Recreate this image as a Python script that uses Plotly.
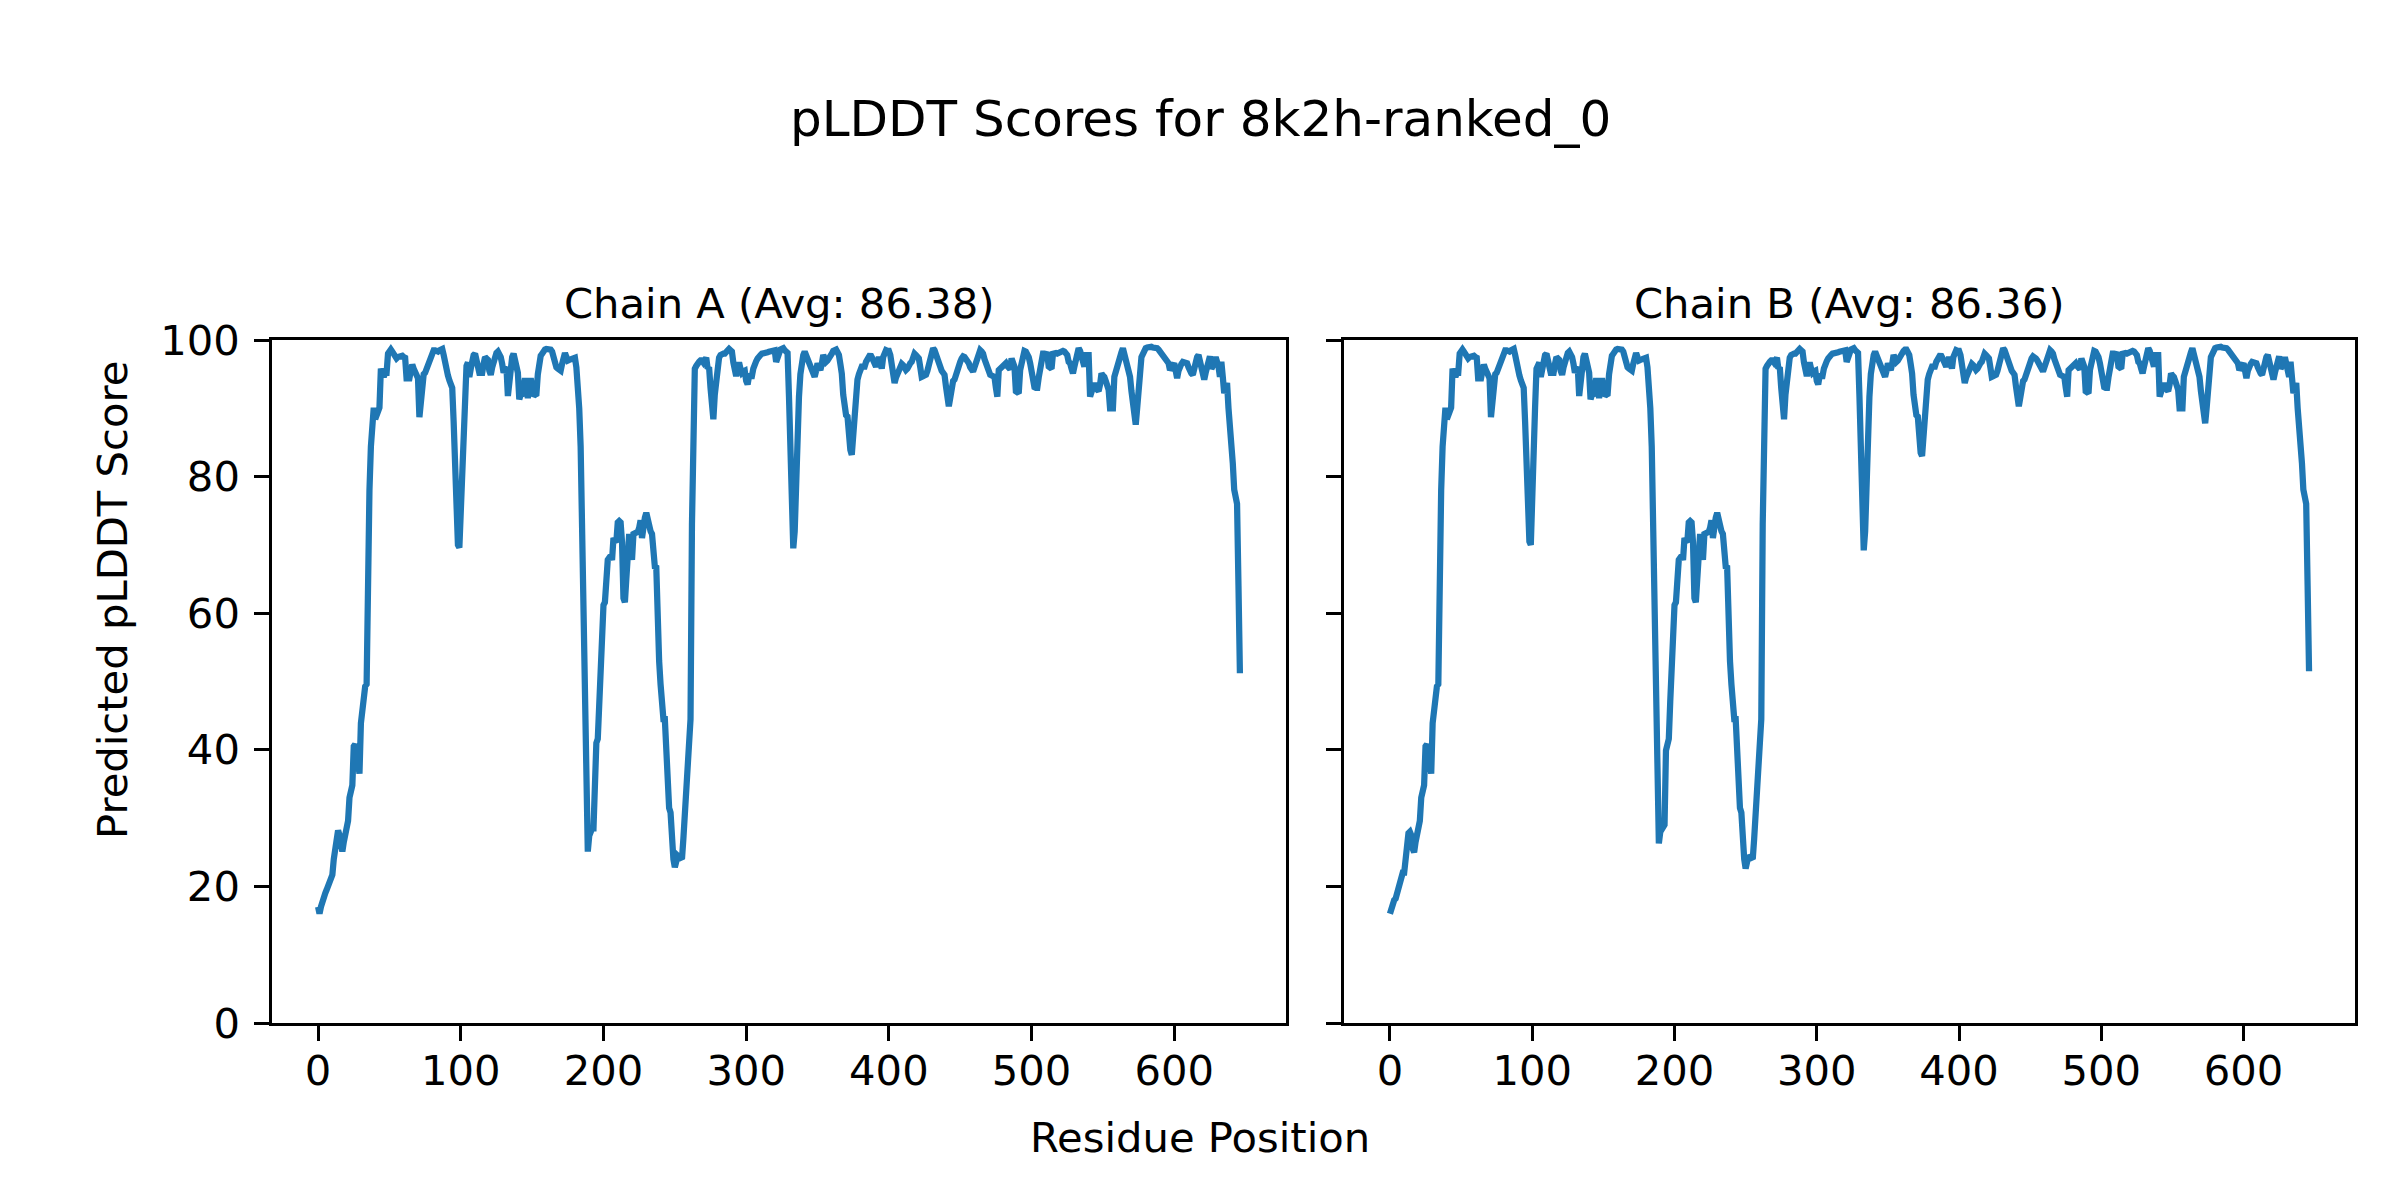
import plotly.graph_objects as go

# pLDDT values (residue index 0..646)
chain_a_plddt = [
    17, 16, 17, 18, 18.5, 19, 19.5, 20, 21, 21.5,
    21.7, 24, 26, 27.7, 28.2, 27.5, 26, 25.1, 26.5, 28,
    29.1, 29.6, 33, 34.5, 34.8, 40.5, 40.8, 39.9, 37, 36.5,
    43.9, 46, 49, 49.3, 49.6, 68, 78, 84.4, 87, 90.1,
    88.4, 89, 90, 90.1, 95.8, 95, 94.6, 95.2, 95.2, 98,
    98.2, 98.6, 98.3, 97.9, 97.5, 97.3, 97.5, 97.6, 97.7, 97.7,
    97.5, 97.4, 94.4, 94.3, 94.4, 95.5, 96.4, 95.8, 95.2, 94.8,
    94.4, 88.7, 91, 94.7, 95, 95.2, 95.8, 96.5, 97, 97.4,
    98, 98.5, 98.5, 98.4, 98.3, 98.5, 98.6, 98.7, 97.8, 96.4,
    95.5, 94.8, 94.1, 93.5, 93, 88, 80, 75, 70, 69.6,
    75, 85, 90.1, 95.8, 96.2, 96.7, 94.6, 95.8, 97.4, 97.8,
    98, 97, 95.5, 95.2, 95.2, 95.2, 96.5, 97.5, 97.3, 97.1,
    95.5, 94.9, 96, 97.1, 97.8, 98.1, 98.3, 98, 97.5, 96.5,
    95.2, 95.8, 96, 91.8, 94, 96.9, 97.5, 98, 97, 95.8,
    95.2, 91.3, 92, 91.8, 93, 94.4, 93, 91.5, 93, 94.4,
    93, 91.8, 92, 92.1, 95, 97.4, 97.7, 98, 98.4, 98.6,
    98.7, 98.7, 98.6, 98.6, 98.3, 97.5, 96.4, 96, 95.8, 95.6,
    95.5, 96.5, 97.5, 98.1, 97.5, 97, 97.1, 97.2, 97.3, 97.4,
    97.4, 96, 93.5, 90, 84.4, 72, 61.6, 44.5, 28.5, 25.1,
    27.4, 28, 28.5, 28.5, 39.9, 41, 41.6, 47, 53, 61,
    61.2, 61.6, 67.2, 67.8, 68.1, 68.4, 67.8, 71, 70.6, 70.4,
    73.3, 73.5, 73.3, 70.4, 62.2, 61.6, 65, 67.2, 71.6, 70,
    67.8, 71.6, 71.7, 71.8, 71.9, 72.5, 73.6, 71, 73.6, 74,
    74.7, 73.5, 72.7, 72, 71.6, 67, 66.8, 66.7, 56.5, 53,
    49.6, 44.5, 44.5, 44.5, 40, 32, 31.5, 30.8, 26, 24,
    22.8, 23.5, 24.5, 24.3, 24.2, 24, 27, 30.8, 32.5, 34.3,
    40, 44.5, 73, 90.1, 95.8, 96.2, 96.7, 96.8, 97, 97,
    96.7, 97.2, 97.4, 95.8, 96, 93, 90, 88.4, 92, 94.5,
    96.9, 97.4, 97.8, 98, 98, 98, 98.3, 98.6, 98.7, 98.5,
    98.3, 96.7, 95.5, 94.7, 95.8, 96.7, 95.8, 95.2, 95.4, 95.5,
    94, 93.5, 94.7, 94.7, 94.7, 95.8, 96.9, 96.9, 97.3, 97.8,
    97.8, 98, 98, 98, 98.1, 98.2, 98.3, 98.4, 98.5, 98.5,
    98.5, 96.8, 97.5, 98.5, 98.6, 98.7, 98.8, 98.5, 98.2, 98.1,
    91.7, 82, 72.2, 69.5, 72, 81, 87, 91.7, 95, 97.1,
    97.8, 98.3, 97.8, 96.8, 96.6, 96, 95.6, 95, 94.6, 95.5,
    96.6, 96, 95.6, 96.5, 97.8, 97.3, 96.8, 97, 97.5, 97.8,
    98, 98.4, 98.6, 98.6, 98.2, 97.8, 96.5, 95.1, 92, 89.3,
    89, 88.8, 84.5, 83.9, 83.2, 86.8, 90, 93.2, 94.2, 95,
    96, 96.1, 96.1, 96.1, 96.8, 97.1, 97.5, 97.9, 97.5, 96.8,
    96.4, 96.1, 96.8, 97.5, 96.8, 95.8, 97.5, 98.5, 98.5, 98.4,
    98.4, 97.8, 96.6, 95, 93.7, 94.5, 95.1, 95.8, 96.3, 96.5,
    96.3, 95.6, 95.6, 95.8, 96.5, 96.6, 96.8, 97.3, 98, 97.8,
    97.5, 97.3, 96, 94.6, 94.7, 94.8, 94.9, 95.5, 96.5, 97.1,
    98, 98.8, 98.5, 97.8, 97.2, 96.5, 96.1, 95.5, 95.2, 94.9,
    93.2, 91.5, 90.3, 91.5, 93.7, 94, 94.2, 95, 95.6, 96.1,
    96.8, 97.3, 97.6, 97.5, 97.3, 97, 96.6, 96, 95.6, 95.4,
    96, 96.6, 97.5, 98.3, 98.5, 98.3, 98, 97.2, 96.5, 96.1,
    95.5, 94.9, 94.8, 94.7, 94.6, 93, 91.7, 95.6, 95.8, 96,
    96.3, 96.4, 96.6, 96.2, 95.8, 95.7, 97.3, 96.8, 96.1, 92.5,
    92.3, 92.2, 95.6, 97, 98, 98.4, 98.3, 98, 97.5, 96.6,
    95, 93.2, 93.1, 93, 93, 94.5, 96.1, 97, 98, 98,
    97.9, 97.9, 96.1, 95.8, 95.8, 98, 98.1, 98.1, 98, 98.1,
    98.3, 98.4, 98.4, 98.3, 98, 97.8, 96.8, 96.6, 95.8, 95.1,
    96.1, 97, 98.3, 98.8, 98.4, 97.8, 97, 96.1, 97.8, 97.8,
    97.8, 91.7, 92.2, 93, 93.7, 93, 92.5, 92.5, 93.5, 95.1,
    94.8, 94.6, 94, 93.2, 92.7, 90, 90, 90, 94.6, 95.5,
    96.1, 97, 97.5, 98.2, 98.8, 98, 96.8, 96, 95.2, 94.6,
    92.5, 90.3, 89, 87.6, 90, 91.7, 95, 97.5, 98.2, 98.6,
    98.8, 98.9, 99, 99, 99, 98.9, 98.9, 98.8, 98.8, 98.6,
    98.3, 98, 97.8, 97.5, 97.3, 97, 96.6, 95.6, 96, 96.3,
    96.6, 95.5, 94.4, 95.5, 96.3, 96.5, 96.8, 96.7, 96.6, 96.6,
    96, 95.4, 95.1, 94.9, 96, 97.1, 97.5, 97.8, 97, 96.1,
    95.2, 94.2, 95.2, 96.1, 97, 97.6, 95.8, 96.2, 96.6, 97.5,
    96.8, 96.1, 94.6, 96.8, 94.6, 92.2, 93, 93.7, 90, 87.3,
    87.1, 82, 78.1, 76.6, 76, 64, 51.2,
]

chain_b_plddt = [
    16, 17, 17.4, 18, 18.2, 19, 20, 20.5, 21.5, 22,
    22, 24.5, 26.5, 27.8, 28, 27.5, 25.5, 25, 26.5, 28,
    29.1, 29.6, 33, 34.5, 34.8, 40.5, 40.8, 39.9, 37, 36.5,
    43.9, 46, 49, 49.3, 49.6, 68, 78, 84.4, 87, 90.1,
    88.4, 89, 90, 90.1, 95.8, 95, 94.6, 95.2, 95.2, 98,
    98.2, 98.6, 98.3, 97.9, 97.5, 97.3, 97.5, 97.6, 97.7, 97.7,
    97.5, 97.4, 94.4, 94.3, 94.4, 95.5, 96.4, 95.8, 95.2, 94.8,
    94.4, 88.7, 91, 94.7, 95, 95.2, 95.8, 96.5, 97, 97.4,
    98, 98.5, 98.5, 98.4, 98.3, 98.5, 98.6, 98.7, 97.8, 96.4,
    95.5, 94.8, 94.1, 93.5, 93, 88, 80, 75, 70.5, 70,
    75, 85, 90.1, 95.8, 96.2, 96.7, 94.6, 95.8, 97.4, 97.8,
    98, 97, 95.5, 95.2, 95.2, 95.2, 96.5, 97.5, 97.3, 97.1,
    95.5, 94.9, 96, 97.1, 97.8, 98.1, 98.3, 98, 97.5, 96.5,
    95.2, 95.8, 96, 91.8, 94, 96.9, 97.5, 98, 97, 95.8,
    95.2, 91.3, 92, 91.8, 93, 94.4, 93, 91.5, 93, 94.4,
    93, 91.8, 92, 92.1, 95, 97.4, 97.7, 98, 98.4, 98.6,
    98.7, 98.7, 98.6, 98.6, 98.3, 97.5, 96.4, 96, 95.8, 95.6,
    95.5, 96.5, 97.5, 98.1, 97.5, 97, 97.1, 97.2, 97.3, 97.4,
    97.4, 96, 93.5, 90, 84.4, 72, 61.6, 44.5, 29, 26.3,
    28, 28.5, 28.8, 29, 39.9, 41, 41.6, 47, 53, 61,
    61.2, 61.6, 67.2, 67.8, 68.1, 68.4, 67.8, 71, 70.6, 70.4,
    73.3, 73.5, 73.3, 70.4, 62.2, 61.6, 65, 67.2, 71.6, 70,
    67.8, 71.6, 71.7, 71.8, 71.9, 72.5, 73.6, 71, 73.6, 74,
    74.7, 73.5, 72.7, 72, 71.6, 67, 66.8, 66.7, 56.5, 53,
    49.6, 44.5, 44.5, 44.5, 40, 32, 31.5, 30.8, 26, 24,
    22.6, 23.5, 24.5, 24.3, 24.2, 24, 27, 30.8, 32.5, 34.3,
    40, 44.5, 73, 90.1, 95.8, 96.2, 96.7, 96.8, 97, 97,
    96.7, 97.2, 97.4, 95.8, 96, 93, 90, 88.4, 92, 94.5,
    96.9, 97.4, 97.8, 98, 98, 98, 98.3, 98.6, 98.7, 98.5,
    98.3, 96.7, 95.5, 94.7, 95.8, 96.7, 95.8, 95.2, 95.4, 95.5,
    94, 93.5, 94.7, 94.7, 94.7, 95.8, 96.9, 96.9, 97.3, 97.8,
    97.8, 98, 98, 98, 98.1, 98.2, 98.3, 98.4, 98.5, 98.5,
    98.5, 96.8, 97.5, 98.5, 98.6, 98.7, 98.8, 98.5, 98.2, 98.1,
    91.7, 82, 72.2, 69.2, 72, 81, 87, 91.7, 95, 97.1,
    97.8, 98.3, 97.8, 96.8, 96.6, 96, 95.6, 95, 94.6, 95.5,
    96.6, 96, 95.6, 96.5, 97.8, 97.3, 96.8, 97, 97.5, 97.8,
    98, 98.4, 98.6, 98.6, 98.2, 97.8, 96.5, 95.1, 92, 89.3,
    89, 88.8, 84.5, 83.5, 83, 86.8, 90, 93.2, 94.2, 95,
    96, 96.1, 96.1, 96.1, 96.8, 97.1, 97.5, 97.9, 97.5, 96.8,
    96.4, 96.1, 96.8, 97.5, 96.8, 95.8, 97.5, 98.5, 98.5, 98.4,
    98.4, 97.8, 96.6, 95, 93.7, 94.5, 95.1, 95.8, 96.3, 96.5,
    96.3, 95.6, 95.6, 95.8, 96.5, 96.6, 96.8, 97.3, 98, 97.8,
    97.5, 97.3, 96, 94.6, 94.7, 94.8, 94.9, 95.5, 96.5, 97.1,
    98, 98.8, 98.5, 97.8, 97.2, 96.5, 96.1, 95.5, 95.2, 94.9,
    93.2, 91.5, 90.3, 91.5, 93.7, 94, 94.2, 95, 95.6, 96.1,
    96.8, 97.3, 97.6, 97.5, 97.3, 97, 96.6, 96, 95.6, 95.4,
    96, 96.6, 97.5, 98.3, 98.5, 98.3, 98, 97.2, 96.5, 96.1,
    95.5, 94.9, 94.8, 94.7, 94.6, 93, 91.7, 95.6, 95.8, 96,
    96.3, 96.4, 96.6, 96.2, 95.8, 95.7, 97.3, 96.8, 96.1, 92.5,
    92.3, 92.2, 95.6, 97, 98, 98.4, 98.3, 98, 97.5, 96.6,
    95, 93.2, 93.1, 93, 93, 94.5, 96.1, 97, 98, 98,
    97.9, 97.9, 96.1, 95.8, 95.8, 98, 98.1, 98.1, 98, 98.1,
    98.3, 98.4, 98.4, 98.3, 98, 97.8, 96.8, 96.6, 95.8, 95.1,
    96.1, 97, 98.3, 98.8, 98.4, 97.8, 97, 96.1, 97.8, 97.8,
    97.8, 91.7, 92.2, 93, 93.7, 93, 92.5, 92.5, 93.5, 95.1,
    94.8, 94.6, 94, 93.2, 92.7, 90, 90, 90, 94.6, 95.5,
    96.1, 97, 97.5, 98.2, 98.8, 98, 96.8, 96, 95.2, 94.6,
    92.5, 90.3, 89, 87.8, 90, 91.7, 95, 97.5, 98.2, 98.6,
    98.8, 98.9, 99, 99, 99, 98.9, 98.9, 98.8, 98.8, 98.6,
    98.3, 98, 97.8, 97.5, 97.3, 97, 96.6, 95.6, 96, 96.3,
    96.6, 95.5, 94.4, 95.5, 96.3, 96.5, 96.8, 96.7, 96.6, 96.6,
    96, 95.4, 95.1, 94.9, 96, 97.1, 97.5, 97.8, 97, 96.1,
    95.2, 94.2, 95.2, 96.1, 97, 97.6, 95.8, 96.2, 96.6, 97.5,
    96.8, 96.1, 94.6, 96.8, 94.6, 92.2, 93, 93.7, 90, 87.3,
    87.1, 82, 78.1, 76.6, 76, 64, 51.5,
]

chain_titles = ["Chain A (Avg: 86.38)", "Chain B (Avg: 86.36)"]
main_title = "pLDDT Scores for 8k2h-ranked_0"
x_label = "Residue Position"
y_label = "Predicted pLDDT Score"
x_ticks = [0, 100, 200, 300, 400, 500, 600]
y_ticks = [0, 20, 40, 60, 80, 100]

residues_a = list(range(len(chain_a_plddt)))
residues_b = list(range(len(chain_b_plddt)))

W, H = 2400, 1200
OFF = 8  # page offset of the figure in the browser
FONT = "DejaVu Sans"
TICK_PX = 41.7
LINE_BLUE = "#1f77b4"


def xp(px):
    return (px - OFF) / W


def yp(py):
    return 1 - (py - OFF) / H


fig = go.Figure()
fig.add_trace(go.Scatter(x=residues_a, y=chain_a_plddt, mode="lines",
                         line=dict(color=LINE_BLUE, width=6.25),
                         xaxis="x", yaxis="y", showlegend=False))
fig.add_trace(go.Scatter(x=residues_b, y=chain_b_plddt, mode="lines",
                         line=dict(color=LINE_BLUE, width=6.25),
                         xaxis="x2", yaxis="y2", showlegend=False))

n = len(chain_a_plddt) - 1
pad = n * 0.05
common_x = dict(range=[-pad, n + pad], tickmode="array", tickvals=x_ticks,
                ticks="outside", ticklen=14.6, tickwidth=3.3, tickcolor="black",
                showline=True, linecolor="black", linewidth=3.3, mirror=True,
                showgrid=False, zeroline=False, automargin=False,
                tickfont=dict(family=FONT, size=TICK_PX, color="black"),
                ticklabelstandoff=-6)
common_y = dict(range=[0, 100], tickmode="array", tickvals=y_ticks,
                ticks="outside", ticklen=14.6, tickwidth=3.3, tickcolor="black",
                showline=True, linecolor="black", linewidth=3.3, mirror=True,
                showgrid=False, zeroline=False, automargin=False,
                tickfont=dict(family=FONT, size=TICK_PX, color="black"),
                ticklabelstandoff=6)

ax1 = [xp(272), xp(1286)]
ax2 = [xp(1344), xp(2355)]
ydom = [yp(1023), yp(340)]

fig.update_layout(
    template="none",
    width=W, height=H, autosize=False,
    margin=dict(l=0, r=0, t=0, b=0, pad=0),
    paper_bgcolor="white", plot_bgcolor="white",
    xaxis=dict(domain=ax1, anchor="y", **common_x),
    yaxis=dict(domain=ydom, anchor="x", **common_y),
    xaxis2=dict(domain=ax2, anchor="y2", **common_x),
    yaxis2=dict(domain=ydom, anchor="x2", showticklabels=False, **common_y),
    font=dict(family=FONT, color="black"),
)

annotations = [
    dict(text=main_title, x=xp(1200), y=yp(119), xref="paper", yref="paper",
         showarrow=False, xanchor="center", yanchor="middle",
         font=dict(family=FONT, size=50, color="black")),
    dict(text=chain_titles[0], x=(ax1[0] + ax1[1]) / 2, y=yp(303),
         xref="paper", yref="paper", showarrow=False, xanchor="center",
         yanchor="middle", font=dict(family=FONT, size=TICK_PX, color="black")),
    dict(text=chain_titles[1], x=(ax2[0] + ax2[1]) / 2, y=yp(303),
         xref="paper", yref="paper", showarrow=False, xanchor="center",
         yanchor="middle", font=dict(family=FONT, size=TICK_PX, color="black")),
    dict(text=x_label, x=xp(1200), y=yp(1137), xref="paper", yref="paper",
         showarrow=False, xanchor="center", yanchor="middle",
         font=dict(family=FONT, size=TICK_PX, color="black")),
    dict(text=y_label, x=xp(112), y=yp(600), xref="paper", yref="paper",
         showarrow=False, xanchor="center", yanchor="middle", textangle=-90,
         font=dict(family=FONT, size=TICK_PX, color="black")),
]
fig.update_layout(annotations=annotations)

fig.write_html("out.html")
